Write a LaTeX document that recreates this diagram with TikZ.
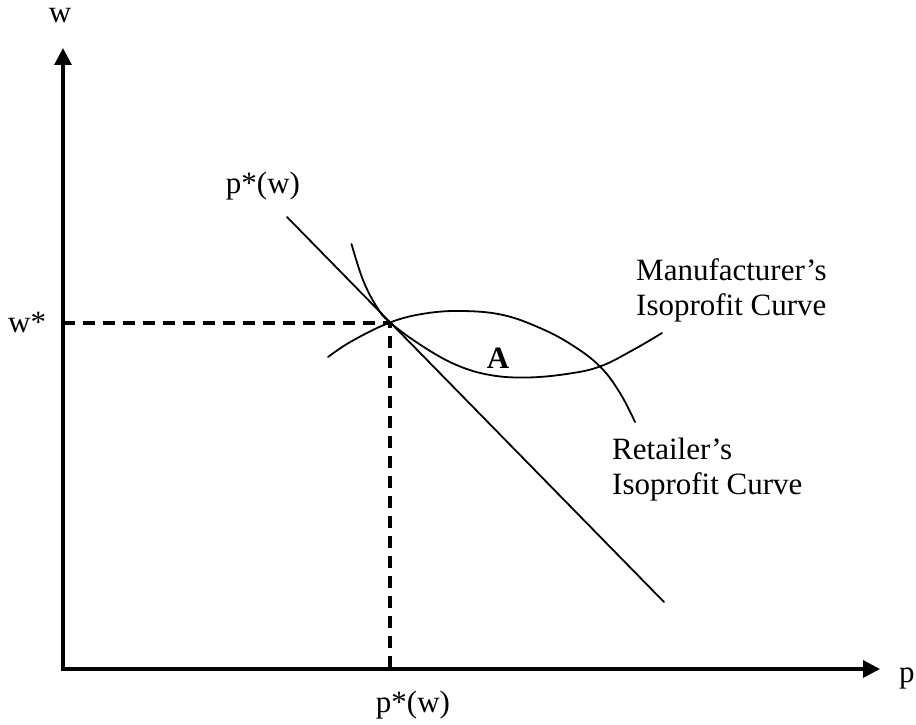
\documentclass[tikz,border=0pt]{standalone}
\usepackage{fontspec}
\setmainfont{Liberation Serif}
\usetikzlibrary{arrows.meta}
\begin{document}
\begin{tikzpicture}[x=1pt,y=-1pt,
  axis/.style={line width=3.3pt, line join=miter, {Triangle[length=17pt,width=17pt]}-{Triangle[length=17pt,width=17pt]}},
  guide/.style={line width=4pt, dash pattern=on 12pt off 8pt},
  curve/.style={line width=1.8pt, line cap=round},
  lbl/.style={inner sep=0pt, font=\fontsize{31}{35}\selectfont},
  multi/.style={lbl, align=left, anchor=base west}
]
\useasboundingbox (0,0) rectangle (916,725);

% axes
\coordinate (O) at (63,669);
\coordinate (ytop) at (63,48);
\coordinate (xend) at (880,669);
\draw[axis] (ytop) -- (O) -- (xend);

% equilibrium point and guides
\coordinate (T) at (390,322.5);
\coordinate (wy) at (63,322.5);
\coordinate (px) at (390,669);
\draw[guide] (wy) -- (T) -- (px);

% reaction line p*(w)
\coordinate (Ltop) at (287,217);
\coordinate (Lbot) at (664,602);
\draw[curve] (Ltop) -- (Lbot);

% retailer's isoprofit curve (cap shaped)
\draw[curve] plot[smooth, tension=0.65] coordinates {(328,357) (352,341) (390,322.5) (425,313.5) (463,311) (503,315) (540,328) (572,345) (600,366.5) (620,393) (635,422)};

% manufacturer's isoprofit curve (U shaped)
\draw[curve] plot[smooth, tension=0.65] coordinates {(351.5,244) (363,280) (376.5,306.5) (390,322.5) (423,346.5) (456.5,365) (490,375) (526.5,377.5) (566.5,374) (600,366.5) (633,350) (662,333)};

% labels
\node[lbl, anchor=base] (wlab) at (60,23) {w};
\node[lbl, anchor=base west] (wstar) at (8,332) {w*};
\node[lbl, anchor=base west] (plab) at (899,682) {p};
\node[lbl, anchor=base] (pstarb) at (413,712) {p*(w)};
\node[lbl, anchor=base] (pstart) at (263,193) {p*(w)};
\node[lbl, anchor=base, font=\fontsize{31}{35}\selectfont\bfseries] (A) at (498,368) {A};
\node[multi] (man) at (636,315) {Manufacturer’s\\Isoprofit Curve};
\node[multi] (ret) at (612,494) {Retailer’s\\Isoprofit Curve};
\end{tikzpicture}
\end{document}
